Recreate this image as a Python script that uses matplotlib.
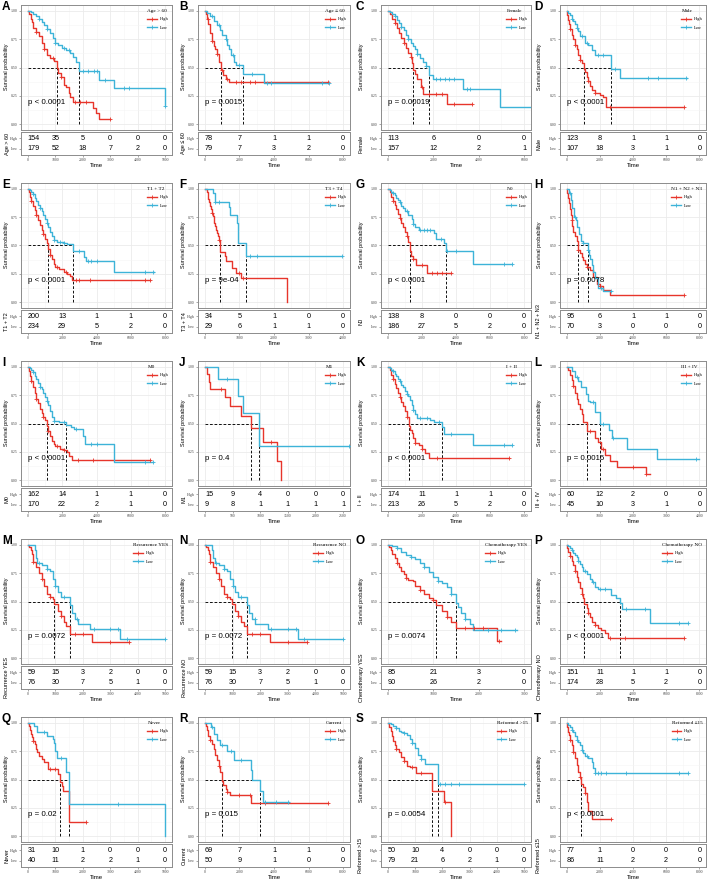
import matplotlib.pyplot as plt
from matplotlib.lines import Line2D
import numpy as np

plt.rcParams['font.family'] = ['Liberation Sans', 'DejaVu Sans']

# 面板字母与分组
letters = list('ABCDEFGHIJKLMNOPQRST')
groups = ['Age > 60', 'Age ≤ 60', 'Female', 'Male',
          'T1 + T2', 'T3 + T4', 'N0', 'N1 + N2 + N3',
          'M0', 'M1', 'I + II', 'III + IV',
          'Recurrence YES', 'Recurrence NO', 'Chemotherapy YES', 'Chemotherapy NO',
          'Never', 'Current', 'Reformed >15', 'Reformed ≤15']
p_texts = ['p < 0.0001', 'p = 0.0015', 'p = 0.00019', 'p < 0.0001',
           'p < 0.0001', 'p = 9e-04', 'p < 0.0001', 'p = 0.0078',
           'p < 0.0001', 'p = 0.4', 'p < 0.0001', 'p = 0.0016',
           'p = 0.0072', 'p = 0.0072', 'p = 0.0074', 'p < 0.0001',
           'p = 0.02', 'p = 0.015', 'p = 0.0054', 'p < 0.0001']
x_max = [5000, 8000, 6000, 8000, 8000, 4000, 8000, 8000, 8000, 2500,
         8000, 4000, 5000, 5000, 3000, 8000, 5000, 8000, 5000, 8000]
x_step = [1000, 2000, 2000, 2000, 2000, 1000, 2000, 2000, 2000, 500,
          2000, 1000, 1000, 1000, 1000, 2000, 1000, 2000, 1000, 2000]

# 风险表 (High / Low)
risk_high = [[154, 35, 5, 0, 0, 0], [78, 7, 1, 1, 0], [113, 6, 0, 0], [123, 8, 1, 1, 0],
             [200, 13, 1, 1, 0], [34, 5, 1, 0, 0], [138, 8, 0, 0, 0], [95, 6, 1, 1, 0],
             [162, 14, 1, 1, 0], [15, 9, 4, 0, 0, 0], [174, 11, 1, 1, 0], [60, 12, 2, 0, 0],
             [59, 15, 3, 2, 0, 0], [59, 15, 3, 2, 0, 0], [85, 21, 3, 0], [151, 11, 1, 1, 0],
             [31, 10, 1, 0, 0, 0], [69, 7, 1, 1, 0], [50, 10, 4, 0, 0, 0], [77, 1, 0, 0, 0]]
risk_low = [[179, 52, 18, 7, 2, 0], [79, 7, 3, 2, 0], [157, 12, 2, 1], [107, 18, 3, 1, 0],
            [234, 29, 5, 2, 0], [29, 6, 1, 1, 0], [186, 27, 5, 2, 0], [70, 3, 0, 0, 0],
            [170, 22, 2, 1, 0], [9, 8, 1, 1, 1, 1], [213, 26, 5, 2, 0], [45, 10, 3, 1, 0],
            [76, 30, 7, 5, 1, 0], [76, 30, 7, 5, 1, 0], [90, 26, 2, 0], [174, 28, 5, 2, 0],
            [40, 11, 2, 2, 1, 0], [50, 9, 1, 0, 0], [79, 21, 6, 2, 1, 0], [86, 11, 2, 2, 0]]

# 中位生存时间
medians = [[1050, 1850], [940, 2180], [1100, 1800], [1020, 2680],
           [1200, 2620], [450, 1200], [1280, 3400], [660, 1280],
           [1090, 2210], [830, 980], [1220, 3190], [620, 1000],
           [970, 1520], [970, 1520], [1060, 1510], [1060, 3220],
           [1180, 1500], [1010, 3200], [1620, 1830], [880]]

# KM 曲线 (time, survival)
rec_high = [(0, 1), (50, .98), (100, .95), (150, .92), (200, .85), (300, .80), (400, .75), (500, .70),
            (600, .64), (700, .57), (800, .54), (900, .52), (970, .48), (1100, .42), (1200, .37),
            (1300, .32), (1400, .28), (1520, .21), (2350, .14), (3700, .14)]
rec_low = [(0, 1), (270, .95), (300, .88), (350, .84), (500, .82), (700, .79), (800, .77), (900, .70),
           (1000, .64), (1100, .58), (1200, .54), (1520, .47), (1600, .40), (1700, .35), (1830, .30),
           (2280, .26), (3370, .17), (5000, .17)]

high_curves = [
    [(0, 1), (50, .97), (100, .93), (150, .90), (200, .85), (300, .81), (400, .78), (500, .72), (600, .66),
     (700, .61), (800, .58), (950, .56), (1050, .50), (1100, .45), (1200, .42), (1300, .35), (1400, .33),
     (1500, .28), (1550, .24), (1650, .20), (2380, .14), (2480, .10), (2600, .05), (3000, .05)],
    [(0, 1), (50, .97), (100, .93), (200, .88), (300, .80), (400, .73), (500, .69), (600, .66), (700, .62),
     (800, .55), (940, .48), (1050, .43), (1200, .40), (1400, .37), (7100, .37)],
    [(0, 1), (100, .97), (200, .93), (300, .89), (400, .85), (500, .80), (600, .76), (700, .72), (800, .67),
     (900, .63), (1000, .59), (1050, .54), (1100, .48), (1200, .44), (1300, .40), (1450, .33), (1550, .27),
     (2600, .18), (3700, .18)],
    [(0, 1), (50, .96), (100, .92), (150, .88), (200, .84), (300, .79), (400, .75), (500, .70), (600, .66),
     (700, .61), (800, .57), (900, .54), (1020, .49), (1100, .46), (1200, .42), (1300, .38), (1400, .34),
     (1500, .30), (1700, .28), (2000, .26), (2200, .24), (2350, .15), (7100, .15)],
    [(0, 1), (50, .97), (100, .93), (200, .89), (300, .85), (400, .81), (500, .77), (600, .72), (700, .68),
     (800, .64), (900, .60), (1000, .56), (1100, .52), (1200, .47), (1300, .42), (1400, .38), (1500, .34),
     (1600, .31), (1800, .29), (2100, .27), (2300, .25), (2450, .23), (2600, .20), (7100, .20)],
    [(0, 1), (50, .97), (80, .94), (100, .91), (130, .88), (150, .85), (170, .82), (200, .79), (230, .76),
     (250, .73), (270, .70), (300, .67), (320, .64), (340, .61), (380, .58), (400, .55), (430, .52),
     (450, .44), (570, .41), (620, .36), (780, .30), (900, .26), (1050, .21), (2380, 0)],
    [(0, 1), (100, .97), (200, .93), (300, .89), (400, .86), (500, .82), (600, .78), (700, .74), (800, .70),
     (900, .66), (1000, .62), (1100, .58), (1200, .53), (1280, .45), (1350, .41), (1450, .38), (1650, .33),
     (2300, .26), (3700, .26)],
    [(0, 1), (50, .96), (100, .92), (150, .87), (200, .82), (250, .77), (300, .72), (350, .67), (400, .62),
     (500, .58), (600, .54), (660, .48), (700, .46), (800, .43), (900, .40), (1000, .37), (1100, .34),
     (1200, .31), (1400, .28), (1600, .22), (1800, .16), (2000, .14), (2200, .11), (2600, .06), (7100, .06)],
    [(0, 1), (50, .96), (100, .92), (200, .87), (300, .82), (400, .77), (500, .72), (600, .68), (700, .63),
     (800, .59), (900, .56), (1000, .53), (1090, .48), (1200, .43), (1300, .39), (1400, .35), (1500, .32),
     (1600, .30), (1900, .28), (2100, .27), (2300, .25), (2400, .21), (2550, .18), (7100, .18)],
    [(0, 1), (40, .933), (80, .867), (100, .80), (360, .733), (460, .65), (650, .57), (830, .46),
     (1050, .34), (1300, .17), (1380, 0)],
    [(0, 1), (100, .97), (200, .93), (300, .89), (400, .85), (500, .81), (600, .77), (700, .73), (800, .69),
     (900, .65), (1000, .61), (1100, .56), (1220, .48), (1300, .44), (1400, .42), (1500, .37), (1600, .33),
     (1800, .31), (2000, .28), (2200, .24), (2400, .20), (7100, .20)],
    [(0, 1), (50, .97), (100, .93), (150, .88), (200, .83), (250, .77), (300, .72), (350, .67), (400, .63),
     (450, .58), (500, .51), (620, .43), (850, .37), (940, .34), (1050, .28), (1150, .22), (1300, .17),
     (1530, .12), (2380, .06), (2520, .06)],
    rec_high,
    rec_high,
    [(0, 1), (30, .98), (60, .95), (100, .92), (150, .88), (200, .84), (250, .80), (300, .77), (350, .74),
     (400, .71), (450, .69), (550, .68), (600, .64), (700, .60), (800, .57), (900, .53), (1000, .51),
     (1060, .47), (1200, .42), (1300, .36), (1400, .32), (1510, .27), (2410, .15), (2500, .15)],
    [(0, 1), (50, .97), (100, .94), (200, .90), (300, .86), (400, .82), (500, .77), (600, .72), (700, .67),
     (800, .62), (900, .57), (1000, .53), (1060, .48), (1200, .44), (1300, .40), (1400, .36), (1500, .32),
     (1700, .29), (1900, .27), (2100, .25), (2300, .22), (2500, .18), (7100, .18)],
    [(0, 1), (30, .97), (60, .94), (100, .90), (150, .87), (200, .84), (250, .81), (300, .77), (350, .74),
     (400, .71), (500, .68), (600, .65), (720, .59), (1100, .55), (1180, .48), (1230, .44), (1280, .40),
     (1500, .13), (2130, .13)],
    [(0, 1), (50, .97), (100, .94), (150, .91), (200, .88), (300, .85), (400, .81), (500, .77), (600, .72),
     (700, .67), (800, .62), (900, .57), (1010, .49), (1050, .45), (1200, .42), (1300, .39), (1450, .36),
     (2650, .29), (7150, .29)],
    [(0, 1), (30, .98), (60, .96), (100, .93), (150, .88), (200, .84), (250, .80), (300, .77), (400, .74),
     (500, .70), (600, .66), (700, .62), (800, .61), (1050, .56), (1620, .40), (2050, .30), (2330, 0)],
    [(0, 1), (50, .96), (100, .92), (150, .89), (200, .85), (300, .80), (400, .74), (500, .69), (600, .63),
     (700, .57), (800, .52), (880, .46), (1000, .43), (1100, .38), (1200, .30), (1300, .22), (1550, .15),
     (2700, .15)],
]

low_curves = [
    [(0, 1), (100, .99), (200, .97), (300, .95), (400, .93), (500, .90), (600, .87), (700, .84), (800, .80),
     (900, .76), (1000, .72), (1100, .70), (1250, .67), (1400, .65), (1550, .63), (1650, .59), (1750, .55),
     (1850, .47), (2600, .39), (3150, .32), (4980, .16), (5000, .16)],
    [(0, 1), (100, .98), (300, .95), (500, .91), (700, .87), (900, .83), (1000, .79), (1200, .75), (1300, .70),
     (1400, .66), (1500, .61), (1700, .55), (1800, .52), (2180, .44), (3400, .36), (7200, .36)],
    [(0, 1), (100, .99), (200, .97), (300, .95), (400, .92), (500, .89), (600, .86), (700, .83), (800, .79),
     (900, .75), (1000, .72), (1100, .69), (1200, .66), (1300, .62), (1400, .58), (1550, .55), (1700, .51),
     (1800, .43), (2000, .40), (3300, .31), (4950, .15), (6500, .15)],
    [(0, 1), (100, .98), (200, .96), (300, .93), (400, .91), (500, .88), (600, .85), (700, .82), (800, .78),
     (1100, .72), (1300, .70), (1500, .65), (1700, .61), (2680, .49), (3200, .41), (7250, .41)],
    [(0, 1), (100, .99), (200, .97), (300, .95), (400, .92), (500, .89), (600, .86), (700, .83), (800, .80),
     (900, .77), (1000, .73), (1100, .70), (1200, .66), (1300, .62), (1400, .58), (1500, .55), (1700, .53),
     (2100, .52), (2300, .51), (2620, .45), (3250, .40), (3400, .36), (5000, .27), (7350, .27)],
    [(0, 1), (230, .96), (300, .88), (700, .84), (740, .77), (930, .70), (950, .52), (1200, .41), (3960, .41)],
    [(0, 1), (100, .99), (200, .97), (300, .96), (400, .94), (500, .92), (600, .90), (700, .88), (800, .85),
     (900, .83), (1000, .80), (1200, .77), (1400, .73), (1500, .69), (1600, .66), (1800, .64), (2700, .61),
     (2800, .56), (3300, .52), (3400, .45), (5000, .34), (7300, .34)],
    [(0, 1), (150, .96), (250, .90), (350, .83), (450, .75), (550, .72), (650, .66), (750, .60), (850, .54),
     (1000, .52), (1280, .46), (1350, .42), (1400, .38), (1500, .33), (1600, .27), (1700, .21), (1900, .13),
     (2200, .10), (2700, .10)],
    [(0, 1), (100, .99), (200, .97), (300, .95), (400, .92), (500, .89), (600, .86), (700, .82), (800, .80),
     (900, .77), (1000, .73), (1100, .70), (1200, .66), (1300, .61), (1400, .56), (1500, .52), (1800, .51),
     (2210, .49), (2500, .47), (2700, .45), (3200, .39), (3350, .32), (5000, .16), (7300, .16)],
    [(0, 1), (230, .889), (590, .74), (690, .59), (980, .30), (2650, .30)],
    [(0, 1), (100, .99), (200, .97), (300, .96), (400, .94), (500, .92), (600, .89), (700, .87), (800, .84),
     (900, .82), (1000, .79), (1100, .76), (1200, .74), (1300, .71), (1400, .66), (1500, .62), (1600, .58),
     (1700, .55), (2500, .53), (2700, .51), (3190, .47), (3300, .41), (5000, .31), (7300, .31)],
    [(0, 1), (150, .96), (240, .91), (330, .87), (420, .82), (570, .76), (640, .70), (700, .69), (850, .60),
     (1000, .50), (1280, .44), (1380, .37), (1830, .28), (2720, .19), (4000, .19)],
    rec_low,
    rec_low,
    [(0, 1), (100, .99), (200, .97), (300, .94), (400, .91), (500, .89), (600, .87), (700, .84), (800, .80),
     (900, .76), (1000, .72), (1100, .68), (1200, .66), (1300, .63), (1400, .57), (1510, .49), (1550, .45),
     (1620, .40), (1700, .35), (1800, .30), (1880, .25), (2850, .25)],
    [(0, 1), (100, .99), (200, .97), (300, .95), (400, .93), (500, .91), (600, .89), (700, .86), (800, .83),
     (900, .80), (1000, .77), (1200, .74), (1400, .70), (1500, .67), (1700, .63), (1900, .61), (2700, .56),
     (3000, .53), (3220, .49), (3350, .43), (5000, .31), (7300, .31)],
    [(0, 1), (220, .97), (320, .92), (680, .88), (900, .86), (950, .82), (1000, .75), (1050, .69), (1380, .57),
     (1500, .28), (4980, 0)],
    [(0, 1), (350, .96), (500, .90), (700, .85), (850, .80), (1300, .75), (1700, .67), (2650, .58), (2750, .50),
     (3200, .40), (3350, .30), (4880, .30)],
    [(0, 1), (100, .99), (200, .97), (300, .95), (400, .93), (500, .92), (600, .91), (700, .89), (800, .86),
     (900, .82), (1000, .78), (1100, .72), (1200, .68), (1350, .64), (1830, .46), (5000, .46)],
    [(0, 1), (100, .98), (200, .96), (300, .94), (400, .92), (500, .88), (600, .85), (700, .83), (800, .80),
     (900, .76), (1000, .73), (1100, .71), (1300, .69), (1500, .65), (1600, .60), (1700, .56), (7300, .56)],
]

# 删失时间
high_censor = [
    [300, 600, 900, 1200, 1700, 1900, 2100, 3000], [150, 400, 700, 1000, 1300, 1800, 2100, 2600, 2900, 7100],
    [300, 700, 1000, 1500, 1800, 2100, 2400, 2900, 3700], [200, 500, 800, 1300, 1700, 2600, 7100],
    [200, 500, 900, 1300, 1700, 2200, 2800, 3000, 3600, 6800, 7100], [200, 400, 1000, 1100],
    [300, 700, 1100, 1500, 2000, 2600, 2900, 3200, 3700], [300, 700, 1200, 2000, 7100],
    [200, 500, 900, 1200, 1700, 2100, 2900, 3800, 7100], [300, 1200],
    [300, 700, 1100, 1600, 2000, 2900, 7100], [200, 700, 1100, 2000, 2400],
    [200, 500, 800, 1200, 1700, 2000, 3000, 3700], [200, 500, 800, 1200, 1700, 2000, 3000, 3700],
    [200, 400, 700, 1000, 1300, 1700, 1900, 2100, 2450], [200, 500, 900, 1300, 1700, 2600, 3500, 7100],
    [200, 800, 1000, 2100], [300, 800, 1300, 2000, 2600, 3500, 7100],
    [300, 600, 900, 1200, 2100], [200, 400, 800, 1100, 2700]]
low_censor = [
    [400, 700, 1000, 1300, 1500, 2000, 2200, 2400, 2500, 2800, 3500, 3700, 5000],
    [400, 800, 1200, 1600, 2000, 2700, 3600, 3800, 6800, 7200],
    [300, 600, 900, 1300, 1700, 2100, 2300, 2500, 2700, 2900, 3500, 3600],
    [300, 600, 900, 1200, 1900, 2200, 2900, 4900, 5500, 7200],
    [300, 700, 1100, 1500, 1900, 2100, 3000, 3500, 3700, 4000, 6800, 7300], [300, 400, 1300, 1500, 3960],
    [300, 700, 1100, 1500, 1900, 2100, 2300, 2500, 3100, 3500, 4000, 6800, 7300],
    [200, 500, 1000, 1300, 2100, 2700],
    [300, 700, 1100, 1500, 2100, 2800, 3700, 4000, 6800, 7300], [400, 2600],
    [300, 700, 1100, 1500, 1900, 2300, 3000, 3700, 6800, 7300], [300, 800, 1100, 1400, 3900],
    [400, 700, 1000, 1300, 1800, 2400, 3000, 3300, 3600, 5000],
    [400, 700, 1000, 1300, 1800, 2400, 3000, 3300, 3600, 5000],
    [200, 500, 800, 1100, 1400, 1700, 2200, 2500, 2800],
    [300, 700, 1100, 1600, 2000, 2300, 3600, 4700, 6800, 7300],
    [600, 1200, 3300], [400, 1000, 1500, 2100, 3500, 4100, 4800],
    [300, 600, 900, 1200, 1900, 2100, 2300, 2600, 5000],
    [300, 600, 900, 1200, 1700, 1900, 2100, 2400, 3600, 6800, 7300]]

RED, BLUE = '#E7352B', '#3DB3D8'
SERIF = 'Liberation Serif'
W, H = 709, 884
fig = plt.figure(figsize=(W / 100, H / 100), dpi=100)

col_start = [0, 177, 354, 532]
col_left = [21, 198, 381, 560]
col_right = [172, 350, 531, 706]


def px_axes(x0, y0, x1, y1):
    return fig.add_axes([x0 / W, 1 - y1 / H, (x1 - x0) / W, (y1 - y0) / H])


def style_box(a):
    for s in a.spines.values():
        s.set_color('#8C8C8C')
        s.set_linewidth(0.7)


def draw_curve(ax, pts, cens, color):
    t = np.array([p[0] for p in pts], dtype=float)
    s = np.array([p[1] for p in pts], dtype=float)
    ax.step(t, s, where='post', color=color, lw=1.0, zorder=3)
    cy = [s[np.searchsorted(t, c, side='right') - 1] for c in cens]
    ax.plot(cens, cy, ls='none', marker='+', ms=2.9, mew=0.6, color=color, zorder=4)


for i in range(20):
    r, c = divmod(i, 4)
    top = 5 + 178 * r
    ax = px_axes(col_left[c], top, col_right[c], top + 125)
    tab = px_axes(col_left[c], top + 127, col_right[c], top + 150)
    xm = x_max[i]
    xlim = (-0.05 * xm, 1.05 * xm)
    ticks = np.arange(0, xm + 1, x_step[i])

    # 生存曲线
    ax.set_xlim(xlim)
    ax.set_ylim(-0.05, 1.05)
    ax.set_xticks(ticks)
    ax.set_xticks(ticks[:-1] + x_step[i] / 2, minor=True)
    ax.set_yticks([0, 0.25, 0.5, 0.75, 1.0])
    ax.set_yticks([0.125, 0.375, 0.625, 0.875], minor=True)
    ax.set_yticklabels(['0.00', '0.25', '0.50', '0.75', '1.00'], fontsize=2.8, family=SERIF, color='#444444')
    ax.set_xticklabels([])
    ax.tick_params(axis='x', which='both', length=0)
    ax.tick_params(axis='y', which='major', length=1.5, width=0.4, pad=0.8, color='#666666')
    ax.tick_params(axis='y', which='minor', length=0)
    ax.grid(which='major', color='#EBEBEB', lw=0.6, zorder=0)
    ax.grid(which='minor', color='#F5F5F5', lw=0.4, zorder=0)
    ax.set_axisbelow(True)
    style_box(ax)

    draw_curve(ax, high_curves[i], high_censor[i], RED)
    draw_curve(ax, low_curves[i], low_censor[i], BLUE)

    med = medians[i]
    ax.plot([0, max(med)], [0.5, 0.5], color='black', lw=0.65, ls=(0, (3, 2)), zorder=2)
    for m in med:
        ax.plot([m, m], [0, 0.5], color='black', lw=0.65, ls=(0, (3, 2)), zorder=2)

    ax.text(0, 0.19, p_texts[i], fontsize=5.7, ha='left', va='center', zorder=5)

    handles = [Line2D([], [], color=RED, lw=1.0, marker='+', ms=2.9, mew=0.6),
               Line2D([], [], color=BLUE, lw=1.0, marker='+', ms=2.9, mew=0.6)]
    ax.legend(handles, ['High', 'Low'], title=groups[i], loc='upper right', frameon=False,
              prop={'family': SERIF, 'size': 3.2},
              title_fontproperties={'family': SERIF, 'size': 3.8},
              handlelength=2.2, labelspacing=1.0, borderaxespad=0.4,
              handletextpad=0.6, alignment='left')

    # 风险表
    tab.set_xlim(xlim)
    tab.set_ylim(0.4, 2.6)
    for j, (vh, vl) in enumerate(zip(risk_high[i], risk_low[i])):
        ha = 'left' if j == 0 else 'center'
        tab.text(ticks[j], 2, str(vh), fontsize=5.2, ha=ha, va='center')
        tab.text(ticks[j], 1, str(vl), fontsize=5.2, ha=ha, va='center')
    tab.set_xticks(ticks)
    tab.set_xticklabels([str(int(t)) for t in ticks], fontsize=2.8, family=SERIF, color='#444444')
    tab.set_yticks([2, 1])
    tab.set_yticklabels(['High', 'Low'], fontsize=2.8, family=SERIF, color='#444444')
    tab.tick_params(length=1.5, width=0.4, pad=0.8, color='#666666')
    tab.set_xlabel('Time', fontsize=4.3, labelpad=0.8)
    style_box(tab)

    # 轴标签与面板字母
    x_lab = (col_start[c] + 7) / W
    fig.text(x_lab, 1 - (top + 62) / H, 'Survival probability', fontsize=4,
             rotation=90, ha='center', va='center')
    fig.text(x_lab, 1 - (top + 138.5) / H, groups[i], fontsize=4,
             rotation=90, ha='center', va='center')
    fig.text((col_start[c] + 2) / W, 1 - (top - 4) / H, letters[i], fontsize=8.5,
             weight='bold', ha='left', va='top')

plt.savefig('out.png', dpi=100)
